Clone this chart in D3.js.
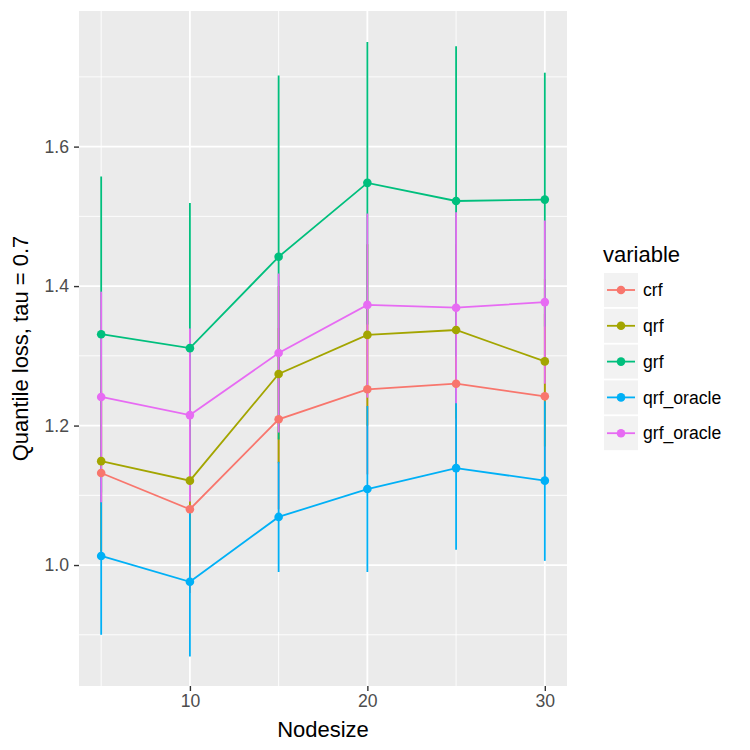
<!DOCTYPE html>
<html><head><meta charset="utf-8">
<script src="https://cdn.jsdelivr.net/npm/d3@7"></script>
<style>body{margin:0;background:#fff}svg{font-family:"Liberation Sans",Arial,sans-serif}</style>
</head><body><svg id="c" width="750" height="750"></svg>
<script>
const nodesize = [5, 10, 15, 20, 25, 30];
const seriesNames = ["crf", "qrf", "grf", "qrf_oracle", "grf_oracle"];
const seriesColors = ["#F8766D", "#A3A500", "#00BF7D", "#00B0F6", "#E76BF3"];
const crfMean = [1.132, 1.080, 1.209, 1.252, 1.260, 1.242];
const crfLow  = [1.01, 0.96, 1.08, 1.13, 1.14, 1.12];
const crfHigh = [1.25, 1.20, 1.34, 1.37, 1.38, 1.36];
const qrfMean = [1.149, 1.121, 1.274, 1.330, 1.337, 1.292];
const qrfLow  = [1.02, 1.00, 1.146, 1.20, 1.21, 1.17];
const qrfHigh = [1.28, 1.24, 1.40, 1.46, 1.46, 1.41];
const grfMean = [1.331, 1.311, 1.442, 1.548, 1.522, 1.524];
const grfLow  = [1.104, 1.103, 1.18, 1.345, 1.299, 1.342];
const grfHigh = [1.557, 1.519, 1.702, 1.750, 1.744, 1.706];
const qoMean  = [1.013, 0.976, 1.069, 1.109, 1.139, 1.121];
const qoLow   = [0.900, 0.869, 0.990, 0.990, 1.022, 1.006];
const qoHigh  = [1.126, 1.083, 1.148, 1.228, 1.256, 1.235];
const goMean  = [1.241, 1.215, 1.304, 1.373, 1.369, 1.377];
const goLow   = [1.090, 1.091, 1.190, 1.240, 1.232, 1.260];
const goHigh  = [1.392, 1.339, 1.418, 1.504, 1.506, 1.494];
const yTicks = [1.0, 1.2, 1.4, 1.6];
const yMinor = [0.9, 1.1, 1.3, 1.5, 1.7];
const xTicks = [10, 20, 30];
const xMinor = [5, 15, 25];

const means = [crfMean, qrfMean, grfMean, qoMean, goMean];
const lows = [crfLow, qrfLow, grfLow, qoLow, goLow];
const highs = [crfHigh, qrfHigh, grfHigh, qoHigh, goHigh];

const svg = d3.select("#c");
const L = 79, R = 567, T = 11, B = 686;
const x = d3.scaleLinear().domain([3.75, 31.25]).range([L, R]);
const y = d3.scaleLinear().domain([0.82655, 1.79445]).range([B, T]);

svg.append("rect").attr("x", L).attr("y", T).attr("width", R - L).attr("height", B - T).attr("fill", "#EBEBEB");
const g = svg.append("g");
g.selectAll(".ymin").data(yMinor).join("line").attr("x1", L).attr("x2", R)
  .attr("y1", d => y(d)).attr("y2", d => y(d)).attr("stroke", "#fff").attr("stroke-width", 0.9);
g.selectAll(".xmin").data(xMinor).join("line").attr("y1", T).attr("y2", B)
  .attr("x1", d => x(d)).attr("x2", d => x(d)).attr("stroke", "#fff").attr("stroke-width", 0.9);
g.selectAll(".ymaj").data(yTicks).join("line").attr("x1", L).attr("x2", R)
  .attr("y1", d => y(d)).attr("y2", d => y(d)).attr("stroke", "#fff").attr("stroke-width", 1.8);
g.selectAll(".xmaj").data(xTicks).join("line").attr("y1", T).attr("y2", B)
  .attr("x1", d => x(d)).attr("x2", d => x(d)).attr("stroke", "#fff").attr("stroke-width", 1.8);

// error bars
seriesNames.forEach((s, i) => {
  svg.append("g").selectAll("line").data(nodesize).join("line")
    .attr("x1", d => x(d)).attr("x2", d => x(d))
    .attr("y1", (d, j) => y(lows[i][j])).attr("y2", (d, j) => y(highs[i][j]))
    .attr("stroke", seriesColors[i]).attr("stroke-width", 1.8);
});
// lines and points
const line = d3.line().x(d => x(d[0])).y(d => y(d[1]));
seriesNames.forEach((s, i) => {
  const pts = nodesize.map((n, j) => [n, means[i][j]]);
  svg.append("path").attr("d", line(pts)).attr("fill", "none")
    .attr("stroke", seriesColors[i]).attr("stroke-width", 1.8);
  svg.append("g").selectAll("circle").data(pts).join("circle")
    .attr("cx", d => x(d[0])).attr("cy", d => y(d[1])).attr("r", 4.3)
    .attr("fill", seriesColors[i]);
});

// axes
const yAxis = svg.append("g").attr("transform", `translate(${L},0)`)
  .call(d3.axisLeft(y).tickValues(yTicks).tickFormat(d3.format(".1f")).tickSize(5).tickPadding(5));
const xAxis = svg.append("g").attr("transform", `translate(0,${B})`)
  .call(d3.axisBottom(x).tickValues(xTicks).tickFormat(d3.format("d")).tickSize(5).tickPadding(4));
[yAxis, xAxis].forEach(a => {
  a.select(".domain").remove();
  a.selectAll(".tick line").attr("stroke", "#333").attr("stroke-width", 1.4);
  a.selectAll(".tick text").attr("fill", "#4D4D4D").style("font-size", "17.6px")
    .style("font-family", "'Liberation Sans',Arial,sans-serif");
});

svg.append("text").attr("x", (L + R) / 2).attr("y", 737).attr("text-anchor", "middle")
  .style("font-size", "22px").attr("fill", "#000").text("Nodesize");
svg.append("text").attr("transform", `translate(28,${(T + B) / 2}) rotate(-90)`)
  .attr("text-anchor", "middle").style("font-size", "22px").attr("fill", "#000")
  .text("Quantile loss, tau = 0.7");

// legend
const lg = svg.append("g");
lg.append("text").attr("x", 603).attr("y", 262).style("font-size", "22px").text("variable");
seriesNames.forEach((s, i) => {
  const yy = 273 + i * 35.8;
  lg.append("rect").attr("x", 604).attr("y", yy).attr("width", 34).attr("height", 34).attr("fill", "#F2F2F2");
  lg.append("line").attr("x1", 607).attr("x2", 635).attr("y1", yy + 17).attr("y2", yy + 17)
    .attr("stroke", seriesColors[i]).attr("stroke-width", 1.8);
  lg.append("circle").attr("cx", 621).attr("cy", yy + 17).attr("r", 4.3).attr("fill", seriesColors[i]);
  lg.append("text").attr("x", 643).attr("y", yy + 17).attr("dy", "0.35em")
    .style("font-size", "17.6px").attr("fill", "#000").text(s);
});
</script></body></html>
